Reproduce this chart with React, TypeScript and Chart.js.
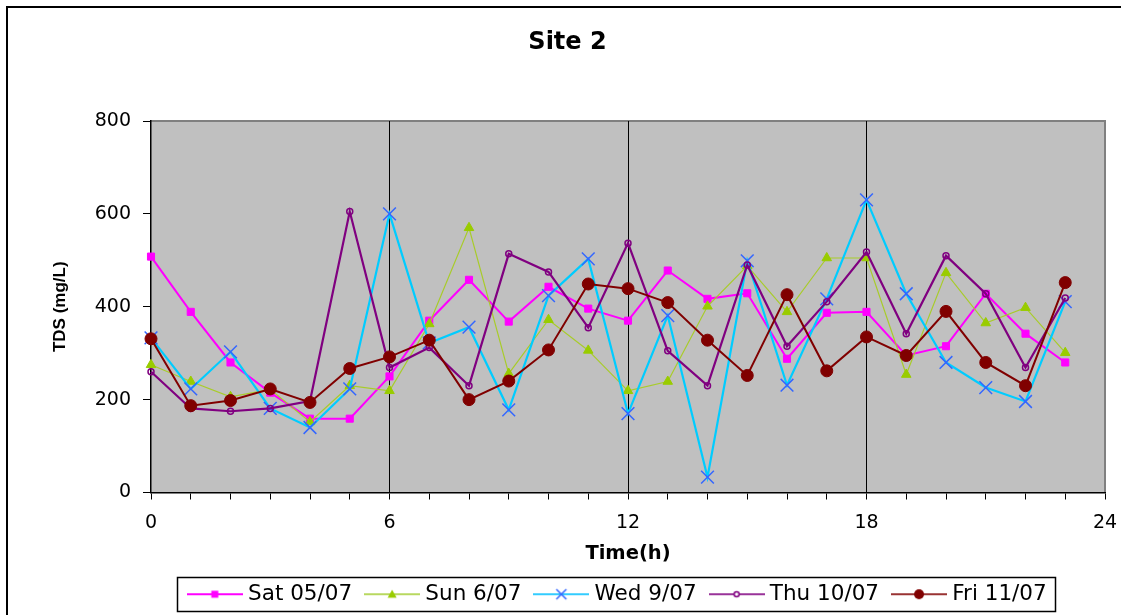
import { useEffect, useRef } from 'react';
import { Chart, registerables } from 'chart.js';

Chart.register(...registerables);

// Sampling hours (h)
const hours = [0, 1, 2, 3, 4, 5, 6, 7, 8, 9, 10, 11, 12, 13, 14, 15, 16, 17, 18, 19, 20, 21, 22, 23];

// TDS readings (mg/L) per sampling day
const sat0507 = [508, 389, 280, 215, 159, 159, 250, 370, 458, 368, 443, 396, 370, 478, 417, 429, 288, 387, 389, 295, 315, 428, 342, 280];
const sun0607 = [275, 239, 206, 222, 152, 230, 219, 363, 570, 256, 372, 306, 219, 239, 401, 488, 389, 505, 505, 254, 473, 365, 398, 301];
const wed0907 = [333, 223, 303, 181, 140, 223, 600, 322, 356, 178, 424, 503, 170, 381, 33, 499, 231, 417, 630, 428, 280, 226, 196, 411];
const thu1007 = [260, 181, 175, 181, 197, 605, 269, 312, 230, 514, 475, 355, 537, 305, 230, 490, 315, 411, 518, 342, 510, 428, 269, 419];
const fri1107 = [331, 187, 198, 223, 194, 267, 292, 328, 200, 240, 307, 449, 439, 409, 328, 252, 426, 262, 335, 295, 390, 280, 230, 452];

const seriesLabels = ['Sat 05/07', 'Sun 6/07', 'Wed 9/07', 'Thu 10/07', 'Fri 11/07'];

const yTicks = [0, 200, 400, 600, 800];
const xLabelEvery = 6;

const FONT = 'DejaVu Sans';
const LEGEND_FONT_SIZE = 21.5;
const LEGEND_PAD = 17.5;
const LEGEND_BOX_W = 45;
const SWATCH_W = 56;
const LEGEND_SHIFT = -8.5;

type Mark = (g: CanvasRenderingContext2D, cx: number, cy: number) => void;

function swatch(lineColor: string, lineWidth: number, mark: Mark): HTMLCanvasElement {
  const c = document.createElement('canvas');
  c.width = SWATCH_W;
  c.height = 16;
  const g = c.getContext('2d') as CanvasRenderingContext2D;
  g.strokeStyle = lineColor;
  g.lineWidth = lineWidth;
  g.beginPath();
  g.moveTo(0, 8);
  g.lineTo(SWATCH_W, 8);
  g.stroke();
  mark(g, SWATCH_W / 2, 8);
  return c;
}

const toPoints = (vals: number[]) => vals.map((v, i) => ({ x: hours[i], y: v }));

// Grey plot background with the thin grey frame on its top and right sides
const plotBackground = {
  id: 'plotBackground',
  beforeDraw(chart: any) {
    const { ctx, chartArea } = chart;
    const { left, top, right, bottom } = chartArea;
    ctx.save();
    ctx.fillStyle = '#C0C0C0';
    ctx.fillRect(left, top, right - left, bottom - top);
    ctx.strokeStyle = '#808080';
    ctx.lineWidth = 2;
    ctx.beginPath();
    ctx.moveTo(left, top);
    ctx.lineTo(right, top);
    ctx.lineTo(right, bottom);
    ctx.stroke();
    ctx.restore();
  },
};

// Nudges the legend row and draws the outer frame plus a box around the legend
const frames = {
  id: 'frames',
  afterLayout(chart: any) {
    const lg = chart.legend;
    if (lg) {
      lg.left += LEGEND_SHIFT;
      lg.right += LEGEND_SHIFT;
    }
  },
  afterDraw(chart: any) {
    const { ctx } = chart;
    ctx.save();
    ctx.strokeStyle = '#000';
    ctx.lineWidth = 2;
    ctx.beginPath();
    ctx.moveTo(7, chart.height + 5);
    ctx.lineTo(7, 7);
    ctx.lineTo(chart.width + 5, 7);
    ctx.stroke();

    const lg = chart.legend;
    if (lg && lg.lineWidths) {
      const p = LEGEND_PAD;
      const start = (lg.left + p + lg.right - lg.lineWidths[0]) / 2;
      const end = start + lg.lineWidths[0] - p;
      const cy = lg.top + p + LEGEND_FONT_SIZE / 2;
      const x0 = start + LEGEND_BOX_W / 2 - SWATCH_W / 2 - 10;
      ctx.lineWidth = 1.5;
      ctx.strokeRect(Math.round(x0) + 0.5, Math.round(cy - 17.5) + 0.5, Math.round(end + 8 - x0), 34);
    }
    ctx.restore();
  },
};

export default function App() {
  const ref = useRef<HTMLCanvasElement>(null);

  useEffect(() => {
    const canvas = ref.current;
    if (!canvas) return;

    const swatches = [
      swatch('#FF00FF', 2, (g, cx, cy) => {
        g.fillStyle = '#FF00FF';
        g.fillRect(cx - 3.5, cy - 3.5, 7, 7);
      }),
      swatch('#B8D860', 2, (g, cx, cy) => {
        g.fillStyle = '#99CC00';
        g.beginPath();
        g.moveTo(cx, cy - 4.5);
        g.lineTo(cx - 4.5, cy + 3.5);
        g.lineTo(cx + 4.5, cy + 3.5);
        g.closePath();
        g.fill();
      }),
      swatch('#33CCFF', 2, (g, cx, cy) => {
        g.strokeStyle = '#3366FF';
        g.lineWidth = 1.5;
        g.beginPath();
        g.moveTo(cx - 5, cy - 5);
        g.lineTo(cx + 5, cy + 5);
        g.moveTo(cx - 5, cy + 5);
        g.lineTo(cx + 5, cy - 5);
        g.stroke();
      }),
      swatch('#993399', 2, (g, cx, cy) => {
        g.fillStyle = '#FFFFFF';
        g.strokeStyle = '#800080';
        g.lineWidth = 1.5;
        g.beginPath();
        g.arc(cx, cy, 2.5, 0, Math.PI * 2);
        g.fill();
        g.stroke();
      }),
      swatch('#993333', 2, (g, cx, cy) => {
        g.fillStyle = '#800000';
        g.beginPath();
        g.arc(cx, cy, 5, 0, Math.PI * 2);
        g.fill();
      }),
    ];

    const chart = new Chart(canvas, {
      type: 'line',
      data: {
        datasets: [
          {
            label: seriesLabels[0],
            data: toPoints(sat0507),
            borderColor: '#FF00FF',
            borderWidth: 2,
            pointStyle: 'rect',
            pointRadius: 5,
            pointBackgroundColor: '#FF00FF',
            pointBorderColor: '#FF00FF',
            pointBorderWidth: 1,
            order: 4,
            clip: false,
          },
          {
            label: seriesLabels[1],
            data: toPoints(sun0607),
            borderColor: '#A8CC2A',
            borderWidth: 1.2,
            pointStyle: 'triangle',
            pointRadius: 5.5,
            pointBackgroundColor: '#99CC00',
            pointBorderColor: '#99CC00',
            pointBorderWidth: 1,
            order: 3,
            clip: false,
          },
          {
            label: seriesLabels[2],
            data: toPoints(wed0907),
            borderColor: '#00CCFF',
            borderWidth: 2.2,
            pointStyle: 'crossRot',
            pointRadius: 9,
            pointBorderColor: '#3366FF',
            pointBorderWidth: 1.5,
            order: 2,
            clip: false,
          },
          {
            label: seriesLabels[3],
            data: toPoints(thu1007),
            borderColor: '#800080',
            borderWidth: 2.2,
            pointStyle: 'circle',
            pointRadius: 3,
            pointBackgroundColor: 'rgba(0,0,0,0)',
            pointBorderColor: '#800080',
            pointBorderWidth: 1.5,
            order: 1,
            clip: false,
          },
          {
            label: seriesLabels[4],
            data: toPoints(fri1107),
            borderColor: '#800000',
            borderWidth: 2,
            pointStyle: 'circle',
            pointRadius: 6,
            pointBackgroundColor: '#800000',
            pointBorderColor: '#800000',
            pointBorderWidth: 1,
            order: 0,
            clip: false,
          },
        ],
      },
      options: {
        animation: false,
        responsive: true,
        maintainAspectRatio: false,
        events: [],
        layout: { padding: { left: 30, right: 16, top: 10, bottom: 0 } },
        elements: { line: { tension: 0 } },
        scales: {
          x: {
            type: 'linear',
            min: 0,
            max: 24,
            ticks: {
              stepSize: 1,
              autoSkip: false,
              maxRotation: 0,
              padding: 12,
              color: '#000',
              font: { family: FONT, size: 19 },
              callback: (v: any) => (Number(v) % xLabelEvery === 0 ? String(v) : ''),
            },
            grid: {
              color: (c: any) =>
                c.tick && c.tick.value % xLabelEvery === 0 && c.tick.value > 0 && c.tick.value < 24
                  ? '#000'
                  : 'rgba(0,0,0,0)',
              tickColor: '#000',
              tickLength: 7,
              lineWidth: 1,
            },
            border: { color: '#000', width: 1.5 },
            title: {
              display: true,
              text: 'Time(h)',
              color: '#000',
              font: { family: FONT, weight: 'bold', size: 19.5 },
              padding: { top: 0, bottom: 0.8 },
            },
            afterFit: (s: any) => {
              s.height = 73.5;
              s.paddingRight = 12;
              s.paddingLeft = 0;
            },
          },
          y: {
            min: yTicks[0],
            max: yTicks[yTicks.length - 1],
            afterBuildTicks: (s: any) => {
              s.ticks = yTicks.map((v) => ({ value: v }));
            },
            ticks: {
              padding: 12,
              color: '#000',
              font: { family: FONT, size: 19 },
            },
            grid: { drawOnChartArea: false, tickColor: '#000', tickLength: 8 },
            border: { color: '#000', width: 1.5 },
            title: {
              display: true,
              text: 'TDS (mg/L)',
              color: '#000',
              font: { family: 'Liberation Sans', weight: 'bold', size: 17 },
              padding: { top: 19.8, bottom: 0 },
            },
            afterFit: (s: any) => {
              s.width = 121;
            },
          },
        },
        plugins: {
          tooltip: { enabled: false },
          title: {
            display: true,
            text: 'Site 2',
            color: '#000',
            font: { family: FONT, weight: 'bold', size: 24 },
            padding: { top: 18.6, bottom: 63.6 },
          },
          legend: {
            position: 'bottom',
            align: 'center',
            fullSize: false,
            labels: {
              usePointStyle: true,
              pointStyleWidth: LEGEND_BOX_W,
              padding: LEGEND_PAD,
              color: '#000',
              font: { family: FONT, size: LEGEND_FONT_SIZE },
              generateLabels: (ch: any) =>
                ch.data.datasets.map((ds: any, i: number) => ({
                  text: ds.label,
                  pointStyle: swatches[i],
                  fillStyle: 'rgba(0,0,0,0)',
                  strokeStyle: 'rgba(0,0,0,0)',
                  fontColor: '#000',
                  lineWidth: 0,
                  hidden: false,
                  datasetIndex: i,
                })),
            },
          },
        },
      },
      plugins: [plotBackground, frames],
    } as any);

    return () => chart.destroy();
  }, []);

  return (
    <div style={{ position: 'absolute', left: 0, top: 0, width: 1121, height: 615 }}>
      <canvas ref={ref} />
    </div>
  );
}
